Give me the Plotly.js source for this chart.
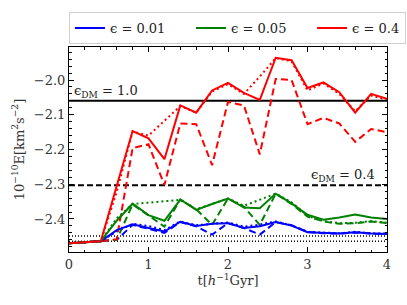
<!DOCTYPE html>
<html>
<head>
<meta charset="utf-8">
<script src="https://cdn.plot.ly/plotly-3.0.1.min.js"></script>
<style>html,body{margin:0;padding:0;background:#fff;}#chart{width:407px;height:305px;}</style>
</head>
<body>
<div id="chart"></div>
<script>
// time grid [h^-1 Gyr]
var t = [0, 0.4, 0.6, 0.8, 1.0, 1.2, 1.4, 1.6, 1.8, 2.0, 2.2, 2.4, 2.6, 2.8, 3.0, 3.2, 3.4, 3.6, 3.8, 4.0];

// eps = 0.01 (blue)
var blueSolid  = [-2.4696, -2.464, -2.432, -2.415, -2.426, -2.436, -2.408, -2.420, -2.414, -2.412, -2.426, -2.421, -2.409, -2.419, -2.438, -2.441, -2.442, -2.438, -2.442, -2.443];
var blueDashed = [-2.4696, -2.464, -2.460, -2.417, -2.428, -2.440, -2.409, -2.421, -2.445, -2.412, -2.426, -2.445, -2.409, -2.418, -2.437, -2.441, -2.442, -2.439, -2.442, -2.443];
var blueDotted = [-2.4696, -2.464, -2.436, -2.414, -2.420, -2.432, -2.407, -2.418, -2.414, -2.410, -2.422, -2.416, -2.407, -2.418, -2.437, -2.440, -2.441, -2.437, -2.441, -2.442];

// eps = 0.05 (green)
var greenSolid  = [-2.4696, -2.464, -2.405, -2.356, -2.389, -2.405, -2.344, -2.374, -2.357, -2.341, -2.367, -2.369, -2.327, -2.355, -2.388, -2.402, -2.396, -2.387, -2.396, -2.400];
var greenDashed = [-2.4696, -2.464, -2.460, -2.358, -2.390, -2.422, -2.344, -2.372, -2.417, -2.341, -2.365, -2.417, -2.327, -2.357, -2.393, -2.407, -2.414, -2.412, -2.407, -2.412];
var greenDotted = [-2.4696, -2.464, -2.398, -2.357, -2.353, -2.349, -2.345, -2.372, -2.356, -2.341, -2.362, -2.345, -2.327, -2.352, -2.391, -2.406, -2.412, -2.411, -2.406, -2.411];

// eps = 0.4 (red)
var redSolid  = [-2.4696, -2.464, -2.305, -2.147, -2.168, -2.228, -2.073, -2.094, -2.030, -2.008, -2.037, -2.057, -1.936, -1.943, -2.023, -2.007, -2.035, -2.094, -2.040, -2.054];
var redDashed = [-2.4696, -2.464, -2.458, -2.196, -2.185, -2.302, -2.125, -2.127, -2.245, -2.063, -2.073, -2.214, -1.997, -2.000, -2.127, -2.109, -2.125, -2.178, -2.141, -2.150];
var redDotted = [-2.4696, -2.464, -2.322, -2.148, -2.160, -2.118, -2.075, -2.094, -2.033, -2.012, -2.040, -1.990, -1.937, -1.946, -2.030, -2.010, -2.040, -2.090, -2.045, -2.057];

// reference levels
var tSpan = [0, 4];
var dmHigh = -2.060;   // eps_DM = 1.0
var dmLow  = -2.303;   // eps_DM = 0.4
var dotLevels = [-2.449, -2.464];

var legendLabels = ['ϵ = 0.01', 'ϵ = 0.05', 'ϵ = 0.4'];
var colors = ['#0000ff', '#008000', '#ff0000'];

var FONT = 'DejaVu Serif';
var LW = 2;
var PAD = '\u00a0\u00a0\u00a0\u00a0\u00a0';

var traces = [];
function line(x, y, color, dash, width, name, show) {
  traces.push({x: x, y: y, type: 'scatter', mode: 'lines', name: name || ' ',
    showlegend: !!show, hoverinfo: 'skip',
    line: {color: color, dash: dash, width: width}});
}
// horizontal reference lines
line(tSpan, [dmHigh, dmHigh], '#000', 'solid', 2);
line(tSpan, [dmLow, dmLow], '#000', '6px,3px', 2);
dotLevels.forEach(function (v) { line(tSpan, [v, v], '#000', '1px,2px', 1.3); });

var sets = [[blueSolid, blueDashed, blueDotted], [greenSolid, greenDashed, greenDotted], [redSolid, redDashed, redDotted]];
sets.forEach(function (s, i) {
  line(t, s[2], colors[i], '2px,3px', LW);
  line(t, s[1], colors[i], '7px,4px', LW);
});
sets.forEach(function (s, i) {
  var lbl = legendLabels[i] + (i < 2 ? PAD : '');
  line(t, s[0], colors[i], 'solid', LW, lbl, true);
});

var axisCommon = {
  showline: true, linecolor: '#000', linewidth: 1, mirror: 'allticks',
  ticks: 'inside', ticklen: 5, tickwidth: 1, tickcolor: '#000',
  showgrid: false, zeroline: false,
  tickfont: {family: FONT, size: 13, color: '#333'}
};

var layout = {
  width: 407, height: 305,
  margin: {l: 69, r: 20, t: 44, b: 53},
  paper_bgcolor: '#fff', plot_bgcolor: '#fff',
  font: {family: FONT, color: '#333'},
  xaxis: Object.assign({}, axisCommon, {
    range: [0, 4], dtick: 1, tick0: 0,
    minor: {dtick: 0.2, ticks: 'inside', ticklen: 2.5, tickcolor: '#000', showgrid: false},
    title: {text: 't[<i>h</i><sup>−1</sup>Gyr]', font: {family: FONT, size: 13, color: '#333'}, standoff: 4}
  }),
  yaxis: Object.assign({}, axisCommon, {
    range: [-2.495, -1.905], dtick: 0.1, tick0: -2.4,
    tickformat: '.1f',
    minor: {dtick: 0.02, ticks: 'inside', ticklen: 2.5, tickcolor: '#000', showgrid: false},
    title: {text: '10<sup>−10</sup>E[km<sup>2</sup>s<sup>−2</sup>]', font: {family: FONT, size: 13, color: '#333'}, standoff: 6}
  }),
  legend: {
    orientation: 'h', x: -0.0001, xanchor: 'left', y: 1.014, yanchor: 'bottom',
    bordercolor: '#d0d0d0', borderwidth: 1, bgcolor: '#fff',
    font: {family: FONT, size: 13, color: '#222'},
    itemwidth: 30
  },
  annotations: [
    {x: 0.04, y: dmHigh, xref: 'x', yref: 'y', xanchor: 'left', yanchor: 'bottom', showarrow: false,
     text: 'ϵ<sub>DM</sub> = 1.0', font: {family: FONT, size: 13, color: '#222'}, yshift: -1},
    {x: 3.88, y: dmLow, xref: 'x', yref: 'y', xanchor: 'right', yanchor: 'bottom', showarrow: false,
     text: 'ϵ<sub>DM</sub> = 0.4', font: {family: FONT, size: 13, color: '#222'}, yshift: -1}
  ],
  showlegend: true
};

Plotly.newPlot('chart', traces, layout, {displayModeBar: false, staticPlot: true});
</script>
</body>
</html>
